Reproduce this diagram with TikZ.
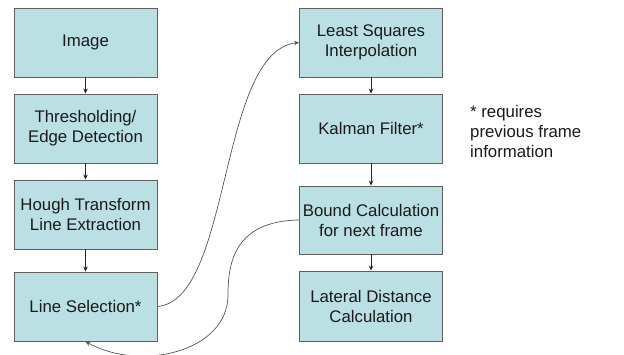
\documentclass[tikz,border=0pt]{standalone}
\usepackage{fontspec}
\setmainfont{Liberation Sans}
\usetikzlibrary{arrows.meta}
\definecolor{boxfill}{HTML}{BAE0E3}
\definecolor{boxline}{HTML}{606060}
\definecolor{txt}{HTML}{1A1A1A}
\definecolor{conn}{HTML}{555555}
\begin{document}
\begin{tikzpicture}[x=1pt,y=-1pt,
  stagebox/.style={draw=boxline,line width=0.9pt,fill=boxfill,minimum width=143pt,minimum height=69pt,
    inner sep=0pt,align=center,text=txt,font=\fontsize{16.8}{20}\selectfont},
  flow/.style={draw=black!85,line width=0.7pt,-{Stealth[length=5pt,width=4.5pt]}},
  loop/.style={draw=conn,line width=0.7pt,-{Stealth[length=5pt,width=4.5pt]}}]
\useasboundingbox (0,0) rectangle (624,354);
\node[stagebox] (img) at (85.5,42.5) {Image};
\node[stagebox] (thr) at (85.5,128.5) {Thresholding/\\Edge Detection};
\node[stagebox] (hough) at (85.5,214.5) {Hough Transform\\Line Extraction};
\node[stagebox] (sel) at (85.5,306.5) {Line Selection*};
\node[stagebox] (lsq) at (371,42.5) {Least Squares\\Interpolation};
\node[stagebox] (kal) at (371,128.5) {Kalman Filter*};
\node[stagebox,minimum height=68pt] (bnd) at (371,220) {Bound Calculation\\for next frame};
\node[stagebox,minimum height=70pt] (lat) at (371,306) {Lateral Distance\\Calculation};
\node[anchor=north west,align=left,inner sep=0pt,text=txt,font=\fontsize{16.8}{20}\selectfont] (note) at (470,105) {* requires\\previous frame\\information};
\draw[flow] (img) -- (thr);
\draw[flow] (thr) -- (hough);
\draw[flow] (hough) -- (sel);
\draw[flow] (lsq) -- (kal);
\draw[flow] (kal) -- (bnd);
\draw[flow] (bnd) -- (lat);
\draw[loop] (sel.east) .. controls (232,300) and (218,52) .. (lsq.west);
\coordinate (mid) at (228,295);
\draw[loop] (bnd.west) .. controls (235,221) and (228,262) .. (mid) .. controls (228,352) and (140,372) .. (sel.south);
\end{tikzpicture}
\end{document}
